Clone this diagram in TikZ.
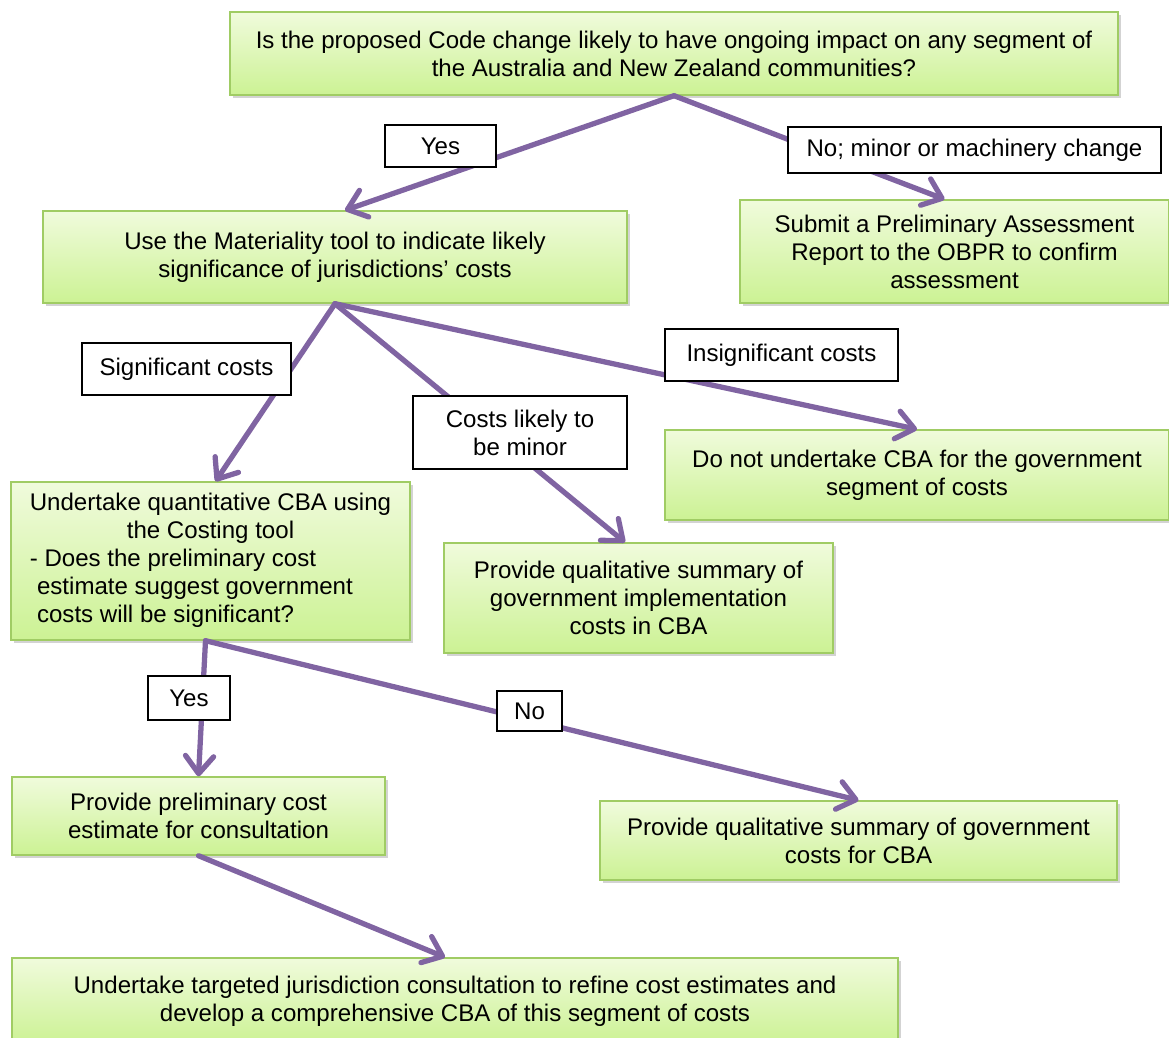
\documentclass[tikz,border=0pt]{standalone}
\usepackage{fontspec}
\setmainfont{Liberation Sans}
\usetikzlibrary{arrows.meta, shadows}

\definecolor{boxtop}{RGB}{240,251,220}
\definecolor{boxbot}{RGB}{204,242,148}
\definecolor{boxline}{RGB}{160,204,100}
\definecolor{flow}{RGB}{128,100,162}

\begin{document}
\begin{tikzpicture}[
    x=1cm, y=1cm,
    every node/.style={font=\fontsize{13.7}{15.9}\selectfont},
    box/.style={rectangle, draw=boxline, line width=0.8pt, top color=boxtop, bottom color=boxbot,
      align=center, inner sep=4pt, drop shadow={shadow xshift=0.06cm, shadow yshift=-0.06cm, opacity=0.35}},
    lbl/.style={rectangle, draw=black, line width=0.7pt, fill=white, align=center, inner sep=3pt},
    arr/.style={draw=flow, line width=3pt, line cap=round, line join=round,
      -{Straight Barb[length=10pt, width=16pt, line cap=round, line join=round]}}
  ]
    \useasboundingbox (0,0) rectangle (23.38,-20.76);

    % decision and outcome boxes
    \node[box, minimum width=17.76cm, minimum height=1.66cm] (top) at (13.48,-1.07)
      {Is the proposed Code change likely to have ongoing impact on any segment of\\ the Australia and New Zealand communities?};
    \node[box, minimum width=11.68cm, minimum height=1.84cm] (mat) at (6.70,-5.14)
      {Use the Materiality tool to indicate likely\\ significance of jurisdictions’ costs};
    \node[box, minimum width=8.58cm, minimum height=2.06cm] (report) at (19.09,-5.03)
      {Submit a Preliminary Assessment\\ Report to the OBPR to confirm\\ assessment};
    \node[box, minimum width=10.08cm, minimum height=1.80cm] (nocba) at (18.34,-9.50)
      {Do not undertake CBA for the government\\ segment of costs};
    \node[box, minimum width=7.98cm, minimum height=3.16cm] (quant) at (4.21,-11.22)
      {\begin{tabular}{@{}l@{}}
        \multicolumn{1}{@{}c@{}}{Undertake quantitative CBA using}\\
        \multicolumn{1}{@{}c@{}}{the Costing tool}\\
        - Does the preliminary cost\\
        \hspace*{0.3em}estimate suggest government\\
        \hspace*{0.3em}costs will be significant?
      \end{tabular}};
    \node[box, minimum width=7.78cm, minimum height=2.20cm] (qualimpl) at (12.77,-11.96)
      {Provide qualitative summary of\\ government implementation\\ costs in CBA};
    \node[box, minimum width=7.46cm, minimum height=1.56cm] (estimate) at (3.97,-16.32)
      {Provide preliminary cost\\ estimate for consultation};
    \node[box, minimum width=10.34cm, minimum height=1.58cm] (qualgov) at (17.17,-16.81)
      {Provide qualitative summary of government\\ costs for CBA};
    \node[box, minimum width=17.72cm, minimum height=1.72cm] (consult) at (9.10,-20.02)
      {Undertake targeted jurisdiction consultation to refine cost estimates and\\ develop a comprehensive CBA of this segment of costs};

    % connectors
    \draw[arr] (top.south) -- ([xshift=0.2cm]mat.north);
    \draw[arr] (top.south) -- ([xshift=-0.2cm]report.north);
    \draw[arr] (mat.south) -- ([xshift=0.1cm]quant.north);
    \draw[arr] (mat.south) -- ([xshift=-0.27cm]qualimpl.north);
    \draw[arr] (mat.south) -- (nocba.north);
    \draw[arr] ([xshift=-0.1cm]quant.south) -- (estimate.north);
    \draw[arr] ([xshift=-0.1cm]quant.south) -- (qualgov.north);
    \draw[arr] (estimate.south) -- ([xshift=-0.2cm]consult.north);

    % branch labels
    \node[lbl, minimum width=2.22cm, minimum height=0.84cm] (yesA) at (8.81,-2.92) {Yes};
    \node[lbl, minimum width=7.46cm, minimum height=0.92cm] (noA) at (19.49,-3.00) {No; minor or machinery change};
    \node[lbl, minimum width=4.18cm, minimum height=1.04cm] (sig) at (3.73,-7.38) {Significant costs};
    \node[lbl, minimum width=4.66cm, minimum height=1.04cm] (insig) at (15.63,-7.10) {Insignificant costs};
    \node[lbl, minimum width=4.28cm, minimum height=1.46cm] (minor) at (10.40,-8.65) {Costs likely to\\ be minor};
    \node[lbl, minimum width=1.64cm, minimum height=0.88cm] (yesB) at (3.78,-13.96) {Yes};
    \node[lbl, minimum width=1.30cm, minimum height=0.80cm] (noB) at (10.59,-14.22) {No};
\end{tikzpicture}
\end{document}
